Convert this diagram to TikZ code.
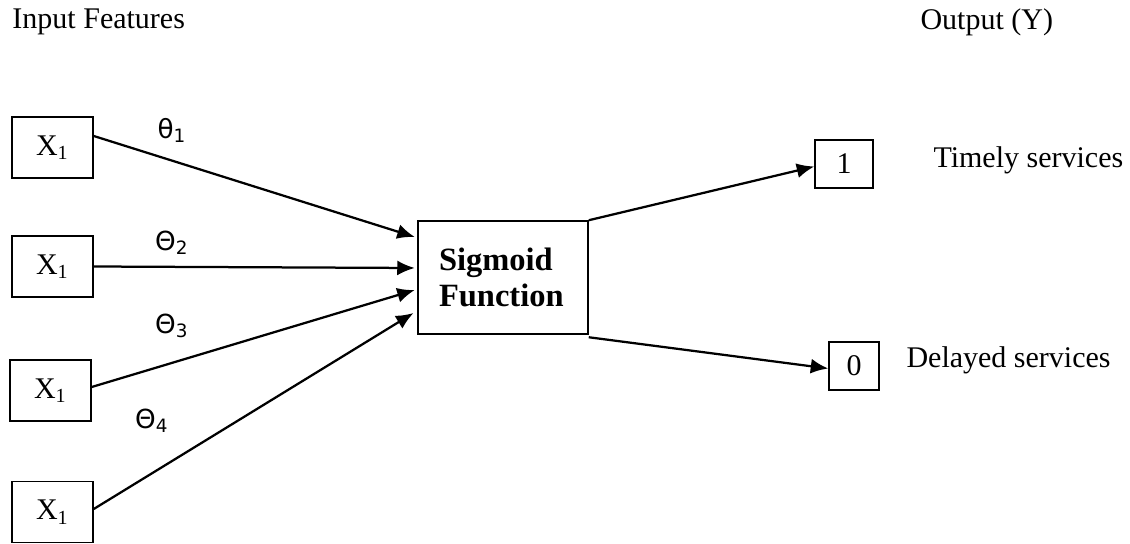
\documentclass[tikz,border=0pt]{standalone}
\usepackage{fontspec}
\setmainfont{Liberation Serif}
\newfontfamily\thetafont{DejaVu Sans}
\usetikzlibrary{arrows.meta}

\tikzset{
  inbox/.style={draw,line width=0.6pt,minimum width=32.4pt,minimum height=24.4pt,inner sep=0pt},
  outbox/.style={draw,line width=0.6pt,minimum height=19.2pt,inner sep=0pt},
  wire/.style={line width=0.9pt,-{Latex[length=7pt,width=6pt]}},
  weight/.style={font=\thetafont\fontsize{10.5}{12}\selectfont},
  plain/.style={font=\fontsize{12}{14}\selectfont,inner sep=0pt}
}

\begin{document}
\begin{tikzpicture}[x=0.4pt,y=-0.4pt,font=\fontsize{12}{14}\selectfont]
  \useasboundingbox (0,0) rectangle (1130,544);

  % headings
  \node[plain,anchor=west] (inhead) at (12,22) {Input Features};
  \node[plain,anchor=west] (outhead) at (920,22) {Output (Y)};

  % input features
  \node[inbox] (x1) at (52.5,147.5) {X\textsubscript{1}};
  \node[inbox] (x2) at (52.5,266.5) {X\textsubscript{1}};
  \node[inbox] (x3) at (50.5,390.5) {X\textsubscript{1}};
  \node[inbox] (x4) at (52.5,512) {X\textsubscript{1}};

  % sigmoid
  \node[draw,line width=0.6pt,minimum height=45.2pt,text width=51.2pt,inner xsep=8.4pt,
        align=left,font=\bfseries\fontsize{13}{14.5}\selectfont] (sig) at (503,277.5)
        {Sigmoid\\Function};

  % outputs
  \node[outbox,minimum width=23.2pt] (one) at (844,164) {1};
  \node[outbox,minimum width=20pt] (zero) at (854,366) {0};
  \node[plain,anchor=west] (timely) at (933,160) {Timely services};
  \node[plain,anchor=west] (delayed) at (906,360) {Delayed services};

  % weights
  \draw[wire] ([yshift=4.6pt]x1.east) -- ([yshift=16.2pt,xshift=-1pt]sig.west);
  \draw[wire] (x2.east) -- ([yshift=3.8pt,xshift=-1pt]sig.west);
  \draw[wire] ([yshift=1.4pt]x3.east) -- ([yshift=-5pt,xshift=-1pt]sig.west);
  \draw[wire] ([yshift=1.2pt]x4.east) -- ([yshift=-14.2pt,xshift=-1.5pt]sig.west);

  \node[weight] (t1) at (172,130) {θ\textsubscript{1}};
  \node[weight] (t2) at (172,243) {Θ\textsubscript{2}};
  \node[weight] (t3) at (172,326) {Θ\textsubscript{3}};
  \node[weight] (t4) at (152,421) {Θ\textsubscript{4}};

  \draw[wire] (sig.north east) -- ([yshift=-1pt]one.west);
  \draw[wire] ([yshift=-1pt]sig.south east) -- ([yshift=-1pt]zero.west);
\end{tikzpicture}
\end{document}
